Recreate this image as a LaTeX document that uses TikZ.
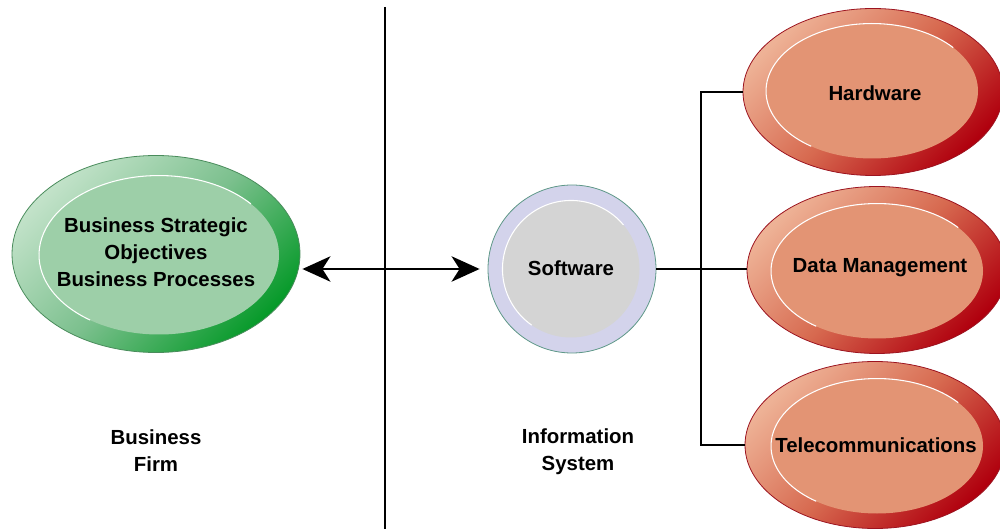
\documentclass[tikz,border=0pt]{standalone}
\usepackage{fontspec}
\setmainfont{Liberation Sans}
\usepackage{tikz}
\usetikzlibrary{arrows.meta, shapes.geometric, positioning}
\definecolor{grlight}{HTML}{C2E2C9}
\definecolor{grmid}{HTML}{7CC08E}
\definecolor{grdark}{HTML}{079A2A}
\definecolor{grin}{HTML}{9DCFA8}
\definecolor{grline}{HTML}{4A8C5C}
\definecolor{rdlight}{HTML}{EEB296}
\definecolor{rdmid}{HTML}{D76A50}
\definecolor{rddark}{HTML}{B0000E}
\definecolor{rdin}{HTML}{E39474}
\definecolor{rdline}{HTML}{9C1420}
\definecolor{swring}{HTML}{D3D3EB}
\definecolor{swin}{HTML}{D4D4D4}
\definecolor{swline}{HTML}{5E9888}
\newcommand{\bigfont}{\fontsize{15.3}{20.25}\selectfont\bfseries}
\tikzstyle{ring}=[ellipse, inner sep=0pt, line width=0.6pt]
\tikzstyle{greenring}=[ring, draw=grline, top color=grlight, bottom color=grdark, middle color=grmid, shading angle=45, minimum width=216pt, minimum height=147.75pt]
\tikzstyle{redring}=[ring, draw=rdline, top color=rdlight, bottom color=rddark, middle color=rdmid, shading angle=45, minimum width=195pt, minimum height=125.25pt]
\tikzstyle{softring}=[circle, inner sep=0pt, line width=0.6pt, draw=swline, fill=swring, minimum size=126pt]
\tikzstyle{core}=[ellipse, inner sep=0pt]
\tikzstyle{greencore}=[core, fill=grin, minimum width=180pt, minimum height=119.25pt]
\tikzstyle{redcore}=[core, fill=rdin, minimum width=159pt, minimum height=101.25pt]
\tikzstyle{softcore}=[core, circle, fill=swin, minimum size=102.75pt]
\tikzstyle{coretext}=[align=center, font=\bigfont, inner sep=0pt]
\tikzstyle{hilite}=[draw=white, line width=0.8pt]
\tikzstyle{caption}=[align=center, font=\bigfont]
\tikzstyle{divider}=[line width=1.9pt]
\tikzstyle{link}=[line width=1.8pt]
\tikzstyle{biarrow}=[line width=1.8pt, {Stealth[length=21pt, width=19pt, inset=6pt]}-{Stealth[length=21pt, width=19pt, inset=6pt]}]

\begin{document}
\begin{tikzpicture}[x=0.75pt, y=0.75pt]
  \useasboundingbox (0,0) rectangle (1000,529);
  % business side
  \node[greenring] (firm) at (156,275) {};
  \node[greencore] (firmin) at (159,274) {};
  \draw[hilite] (firmin.center) ++(40:90pt and 59.6pt) arc[start angle=40, end angle=235, x radius=90pt, y radius=59.6pt];
  \node[coretext] (firmtxt) at (156,277) {Business Strategic\\Objectives\\Business Processes};
  \node[caption] (firmlbl) at (156,78.5) {Business\\Firm};

  % divider
  \coordinate (divtop) at (385,522);
  \coordinate (divbot) at (385,0);
  \draw[divider] (divtop) -- (divbot);

  % information system side
  \node[softring] (soft) at (572,260) {};
  \node[softcore] (softin) at (571,260) {};
  \draw[hilite] (softin.center) ++(40:51.4pt) arc[start angle=40, end angle=235, radius=51.4pt];
  \node[coretext] (softtxt) at (571,261) {Software};
  \node[caption] (syslbl) at (578,77) {Information\\System};

  \node[redring] (hw) at (873,437) {};
  \node[redcore] (hwin) at (872,438) {};
  \draw[hilite] (hwin.center) ++(40:79.5pt and 50.6pt) arc[start angle=40, end angle=235, x radius=79.5pt, y radius=50.6pt];
  \node[coretext] (hwtxt) at (875,436) {Hardware};
  \node[redring] (dm) at (877,259) {};
  \node[redcore] (dmin) at (877,258) {};
  \draw[hilite] (dmin.center) ++(40:79.5pt and 50.6pt) arc[start angle=40, end angle=235, x radius=79.5pt, y radius=50.6pt];
  \node[coretext] (dmtxt) at (880,261) {Data Management};
  \node[redring] (tc) at (875,84) {};
  \node[redcore] (tcin) at (877,83) {};
  \draw[hilite] (tcin.center) ++(40:79.5pt and 50.6pt) arc[start angle=40, end angle=235, x radius=79.5pt, y radius=50.6pt];
  \node[coretext] (tctxt) at (876,84) {Telecommunications};

  % connectors
  \draw[biarrow] ([xshift=1.5pt]firm.east |- soft.west) -- ([xshift=-6pt]soft.west);
  \coordinate (bus) at (701,260);
  \draw[link] (soft.east) -- (soft.east -| dm.west);
  \draw[link] (hw.west) -- (hw.west -| bus) -- (tc.west -| bus) -- (tc.west);
\end{tikzpicture}
\end{document}
